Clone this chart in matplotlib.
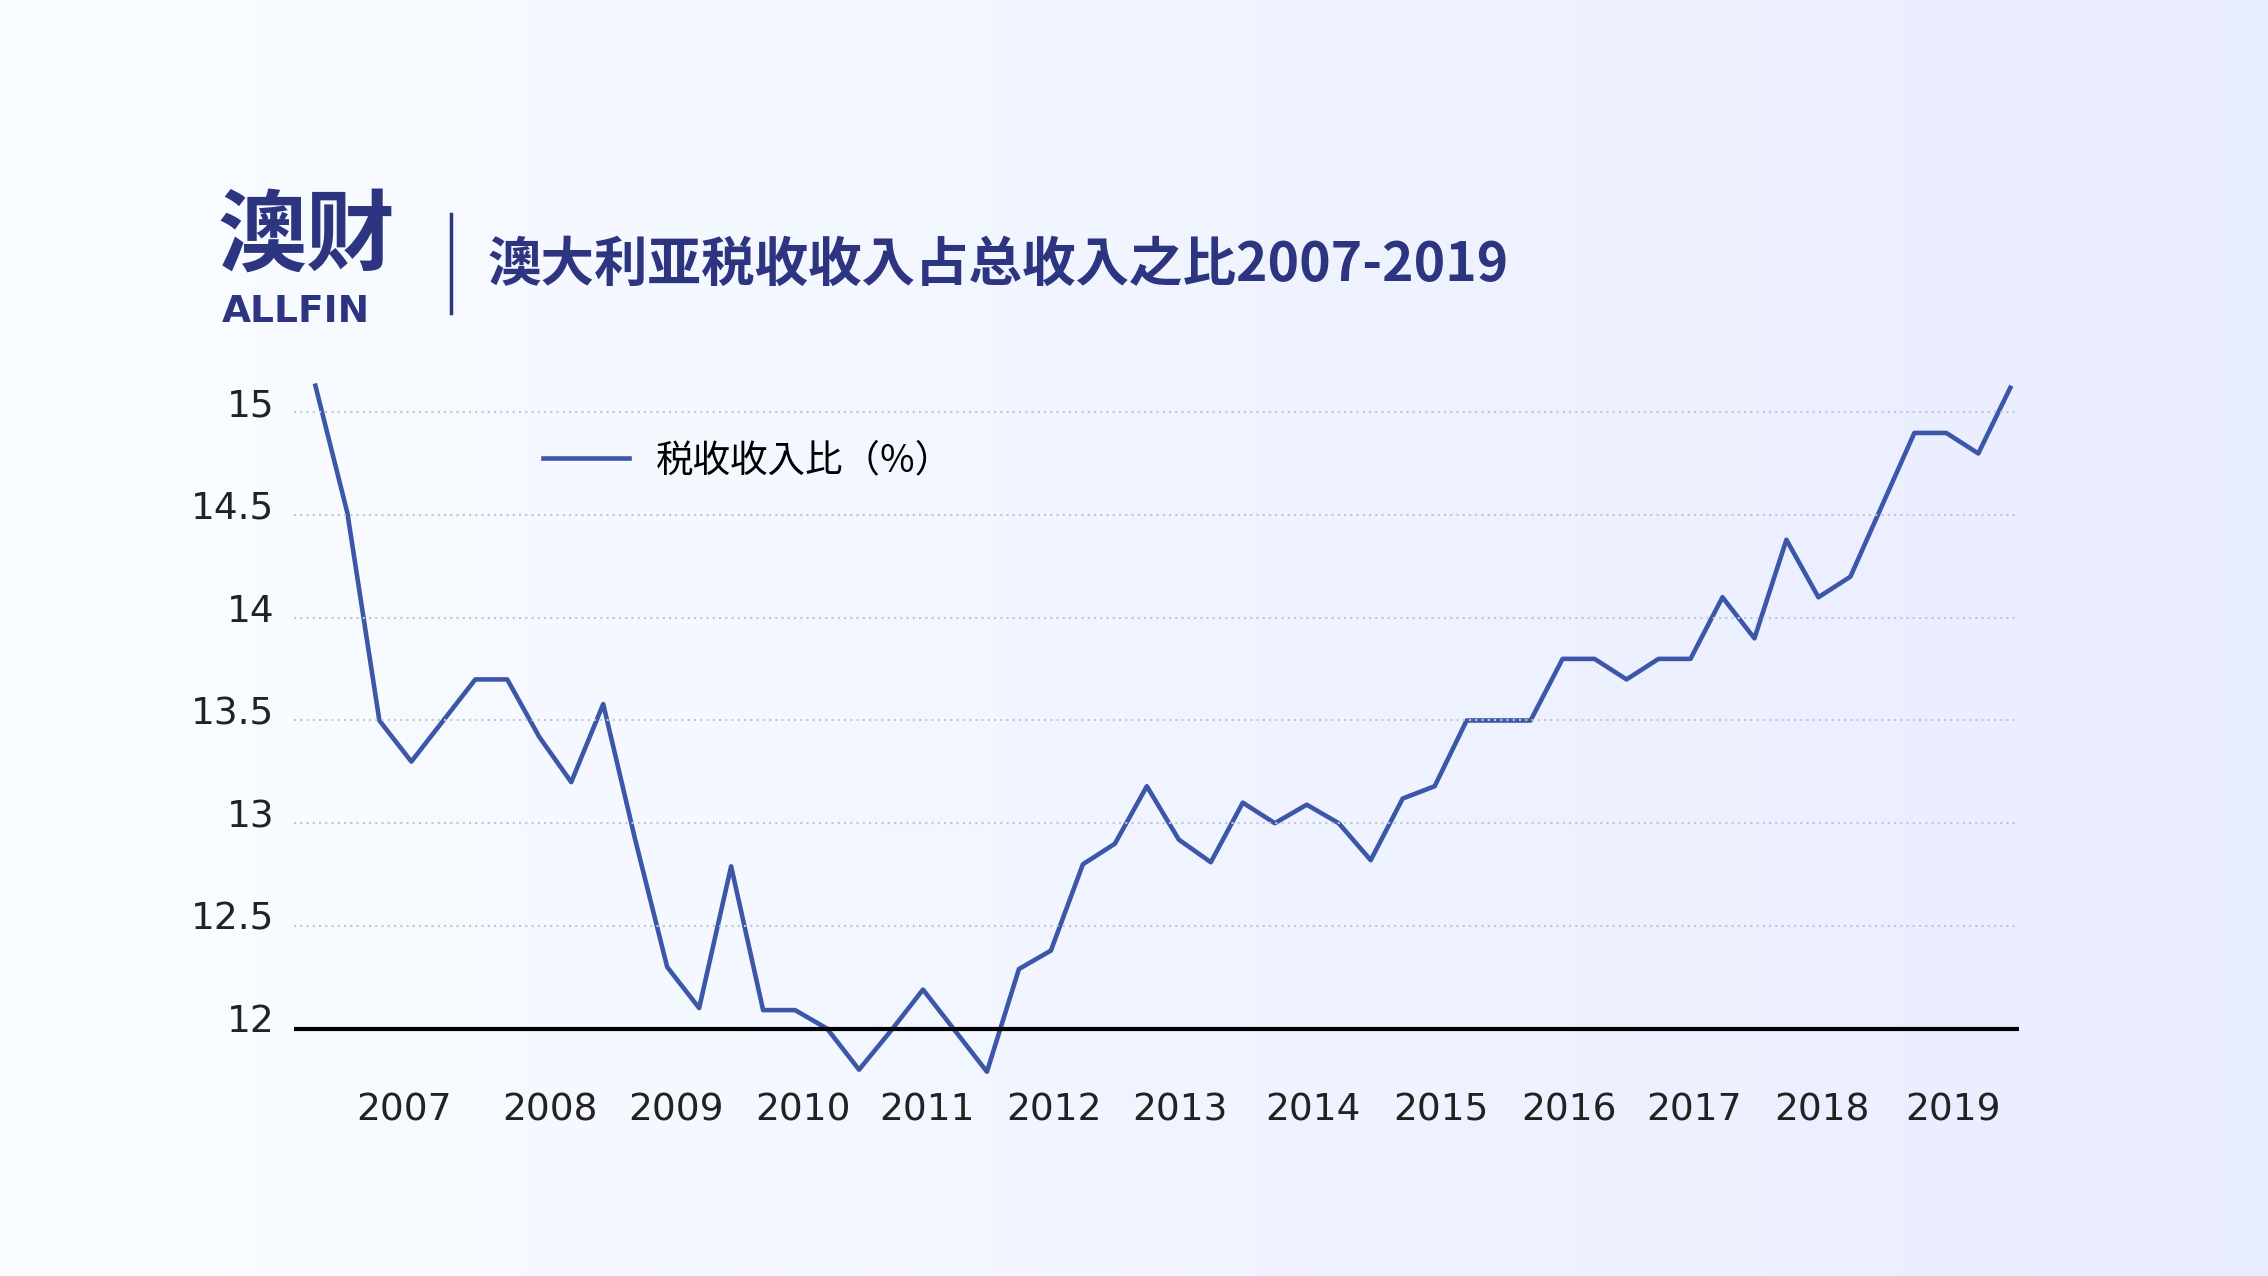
import matplotlib
matplotlib.use("Agg")
import matplotlib.pyplot as plt
from matplotlib import font_manager as fm
import numpy as np

values = [15.13,14.51,13.5,13.3,13.5,13.7,13.7,13.42,13.2,13.58,12.92,12.3,12.1,12.79,12.09,12.09,
          12.0,11.8,11.99,12.19,11.99,11.79,12.29,12.38,12.8,12.9,13.18,12.92,12.81,13.1,13.0,13.09,
          13.0,12.82,13.12,13.18,13.5,13.5,13.5,13.8,13.8,13.7,13.8,13.8,14.1,13.9,14.38,14.1,14.2,
          14.55,14.9,14.9,14.8,15.12]
year_labels = ["2007","2008","2009","2010","2011","2012","2013","2014","2015","2016","2017","2018","2019"]
year_pos = [2.76,7.33,11.27,15.25,19.14,23.1,27.05,31.2,35.2,39.2,43.1,47.1,51.2]
y_ticks = [12,12.5,13,13.5,14,14.5,15]
y_labels = ["12","12.5","13","13.5","14","14.5","15"]

files = [f for f in fm.findSystemFonts() if "CJK" in f and "Sans" in f]
def pick(pref):
    for f in files:
        if all(p in f for p in pref):
            return f
    return files[0] if files else None
reg = pick(["Regular"]) or pick([])
bold = pick(["Bold"]) or reg
cjk_reg = fm.FontProperties(fname=reg) if reg else fm.FontProperties(family="Noto Sans CJK SC")
cjk_bold = fm.FontProperties(fname=bold, weight="bold") if bold else fm.FontProperties(family="Noto Sans CJK SC", weight="bold")

navy = "#2e3580"
line_c = "#3d57a8"

fig = plt.figure(figsize=(22.68,12.76), dpi=100)
bg = fig.add_axes([0,0,1,1]); bg.set_axis_off()
gx = np.linspace(0,1,300)
grad = np.outer(np.ones(200), 1.0 - 0.07*gx)
bg.imshow(np.dstack([grad*0.96+0.02, grad*0.985+0.01, np.ones_like(grad)]).clip(0,1), aspect='auto', extent=[0,1,0,1])
bg.set_xlim(0,1); bg.set_ylim(0,1)

n = len(values)
x = np.arange(n)
x0 = (203-218)/22.1; x1 = (1395-218)/22.1
ax = fig.add_axes([0.1295,0.1456,0.7605,0.5634])
ax.patch.set_alpha(0)
ax.plot(x, values, color=line_c, lw=3.3, label="税收收入比（%）")
ax.set_xlim(x0, x1); ax.set_ylim(11.7, 15.2)
for t in y_ticks[1:]:
    ax.axhline(t, color="#bfc5d2", lw=1.5, ls=(0,(1,2)))
ax.axhline(12, color="black", lw=3)
for s in ax.spines.values(): s.set_visible(False)
ax.set_yticks([]); ax.set_xticks(year_pos); ax.set_xticklabels(year_labels, fontsize=27, color="#222")
ax.tick_params(axis='x', length=0, pad=2)
for t,l in zip(y_ticks,y_labels):
    ax.text(x0-0.6, t+0.03, l, ha='right', va='center', fontsize=27, color="#222")
lp = cjk_reg.copy(); lp.set_size(27)
ax.legend(loc='upper left', bbox_to_anchor=(0.125,0.95), frameon=False,
          prop=lp, handlelength=2.3, handletextpad=0.7)

fp = cjk_bold.copy(); fp.set_size(64)
fig.text(0.096, 0.793, "澳财", fontproperties=fp, color=navy)
fig.text(0.098, 0.748, "ALLFIN", fontfamily="DejaVu Sans", fontweight='bold', fontsize=27, color=navy)
fig.add_artist(plt.Line2D([0.199,0.199],[0.755,0.832], color=navy, lw=2.5))
tp = cjk_bold.copy(); tp.set_size(38.5)
fig.text(0.215, 0.792, "澳大利亚税收收入占总收入之比2007-2019", fontproperties=tp,
         color=navy, va='center')
fig.savefig("out.png", dpi=100)
